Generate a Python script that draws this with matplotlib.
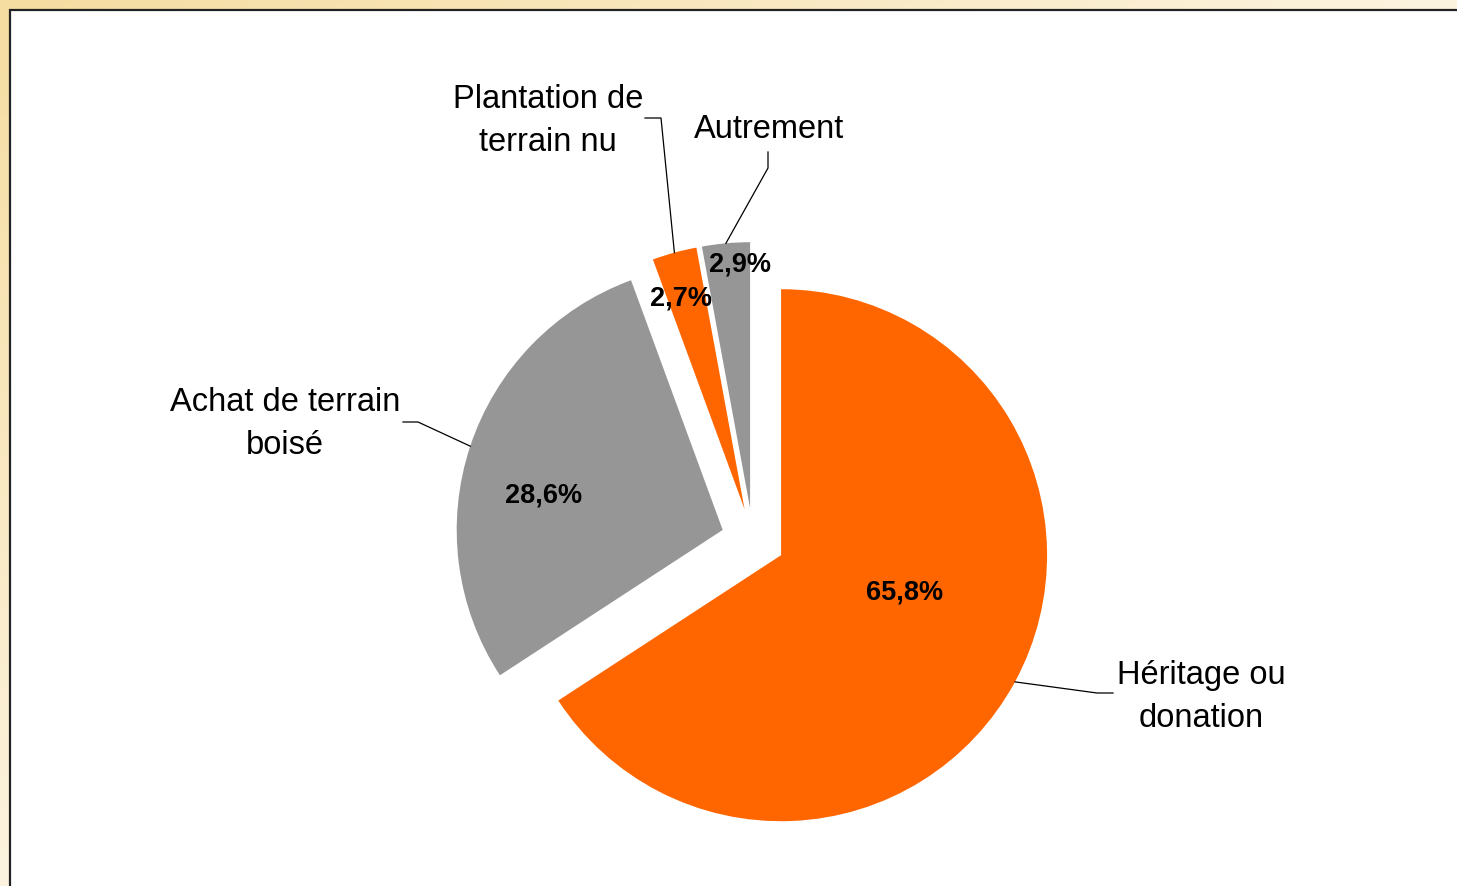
import matplotlib
matplotlib.use("Agg")
import matplotlib.pyplot as plt
import numpy as np
from matplotlib.patches import Rectangle

plt.rcParams["font.family"] = ["Liberation Sans", "DejaVu Sans"]

# data (clockwise from 12 o'clock)
categories = ["Héritage ou\ndonation", "Achat de terrain\nboisé", "Plantation de\nterrain nu", "Autrement"]
values = [65.8, 28.6, 2.7, 2.9]
pct_labels = ["65,8%", "28,6%", "2,7%", "2,9%"]
colors = ["#FF6600", "#969696", "#FF6600", "#969696"]

# layout, in pixels of the 1457x886 picture
W, H = 1457, 886
CX, CY, R = 753, 540, 266
cat_label_px = [(1201, 697), (285, 424), (548, 121), (769, 129)]
pct_label_px = [(905, 593), (544, 495), (681, 298), (740, 265)]
leader_tail_px = [
    [(1097, 693), (1113, 693)],
    [(418, 422), (403, 422)],
    [(661, 118), (645, 118)],
    [(768, 168), (768, 152)],
]


def px(x, y):
    return (x - CX) / R, (CY - y) / R


fig = plt.figure(figsize=(W / 100, H / 100), dpi=100)

# gradient backdrop + white plot area with dark frame
bg = fig.add_axes([0, 0, 1, 1])
gx, gy = np.meshgrid(np.linspace(0, 1, 300), np.linspace(0, 1, 200))
t = np.clip((gx + gy) / 1.3, 0, 1)[..., None]
c0 = np.array([245, 220, 160]) / 255
c1 = np.array([255, 251, 243]) / 255
bg.imshow(c0 + (c1 - c0) * t, extent=(0, 1, 0, 1), aspect="auto", origin="upper")
bg.add_patch(Rectangle((10 / W, -0.1), 1.1, (H - 10) / H + 0.1, transform=bg.transAxes,
                       facecolor="white", edgecolor="#222222", linewidth=1.6, clip_on=False))
bg.set_xlim(0, 1)
bg.set_ylim(0, 1)
bg.axis("off")

ax = fig.add_axes([0, 0, 1, 1])
ax.set_facecolor("none")
wedges, _ = ax.pie(
    values,
    colors=colors,
    startangle=90,
    counterclock=False,
    explode=[0.12] * len(values),
    radius=1,
    wedgeprops=dict(linewidth=0),
)
ax.set_xlim(-CX / R, (W - CX) / R)
ax.set_ylim(-(H - CY) / R, CY / R)
ax.axis("off")

for w, cat, pct, lp, pp, tail in zip(wedges, categories, pct_labels, cat_label_px, pct_label_px, leader_tail_px):
    ang = np.deg2rad((w.theta1 + w.theta2) / 2)
    x0 = w.center[0] + w.r * np.cos(ang)
    y0 = w.center[1] + w.r * np.sin(ang)
    pts = [(x0, y0)] + [px(*p) for p in tail]
    ax.plot([p[0] for p in pts], [p[1] for p in pts], color="black", linewidth=0.9)
    ax.text(*px(*lp), cat, ha="center", va="center", fontsize=23.5, linespacing=1.5)
    ax.text(*px(*pp), pct, ha="center", va="center", fontsize=19.5, fontweight="bold")

fig.savefig("out.png", dpi=100)
